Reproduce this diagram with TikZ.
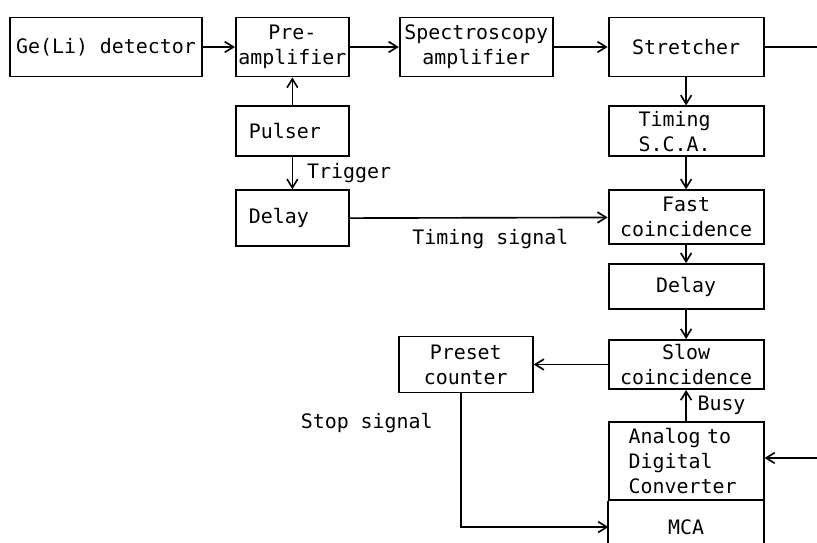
\documentclass[tikz,border=0pt]{standalone}
\usepackage{fontspec}
\setmainfont{DejaVu Sans Mono}
\usepackage{xcolor}
\usepackage{tikz}
\usetikzlibrary{arrows.meta,positioning}

\begin{document}
\begin{tikzpicture}[
  x=0.3mm,y=-0.3mm,
  unitbox/.style={draw,line width=1.6pt,align=center,inner sep=1pt,minimum height=15mm,font=\fontsize{17pt}{21.5pt}\selectfont},
  colbox/.style={unitbox,minimum width=46.5mm},
  lbl/.style={font=\fontsize{17pt}{21.5pt}\selectfont},
  wire/.style={line width=1.4pt},
  arr/.style={-{Straight Barb[length=2.6mm,width=3.2mm]},line width=1.4pt}]
  \useasboundingbox (0,0) rectangle (817,543);
  % top row
  \node[unitbox,minimum width=57.6mm,minimum height=17.7mm] (det) at (106,47) {Ge(Li) detector};
  \node[unitbox,minimum width=33.9mm,minimum height=17.7mm,right=9.6mm of det] (pre) {Pre-\\amplifier};
  \node[unitbox,minimum width=45.9mm,minimum height=17.7mm,right=14.7mm of pre] (spec) {Spectroscopy\\amplifier};
  \node[colbox,minimum height=17.7mm,right=16.2mm of spec] (str) {Stretcher};
  % pulser branch
  \node[unitbox,align=left,text width=26.1mm,minimum width=33.9mm,below=8.4mm of pre] (pulser) {Pulser};
  \node[unitbox,align=left,text width=26.1mm,minimum width=33.9mm,minimum height=16.8mm,below=9.6mm of pulser] (dlyA) {Delay};
  % right column
  \node[colbox,align=left,text width=28.5mm,below=8.4mm of str] (sca) {Timing\\S.C.A.};
  \node[colbox,minimum height=16.2mm,below=9.6mm of sca] (fast) {Fast\\coincidence};
  \node[colbox,minimum height=13.5mm,below=5.4mm of fast] (dlyB) {Delay};
  \node[colbox,minimum height=14.7mm,below=8.7mm of dlyB] (slow) {Slow\\coincidence};
  \node[colbox,align=left,text width=34.5mm,minimum height=23.4mm,below=9.3mm of slow] (adc) {Analog to\\Digital\\Converter};
  \node[lbl,minimum width=46.5mm,minimum height=15.6mm,below=0pt of adc] (mca) {MCA};
  \node[unitbox,minimum width=40.2mm,minimum height=16.8mm,left=22.2mm of slow] (preset) {Preset\\counter};
  \coordinate (outA) at (817,47);
  \coordinate (inB) at (817,458);
  % connectors
  \draw[arr] (det) -- (pre);
  \draw[arr] (pre) -- (spec);
  \draw[arr] (spec) -- (str);
  \draw[wire] (str) -- (outA);
  \draw[arr] (pulser) -- (pre);
  \draw[arr] (pulser) -- node[lbl,right=3mm] {Trigger} (dlyA);
  \draw[arr] (dlyA) -- node[lbl,below=2mm,pos=0.545] {Timing signal} (fast);
  \draw[arr] (str) -- (sca); \draw[arr] (sca) -- (fast); \draw[arr] (fast) -- (dlyB);
  \draw[arr] (dlyB) -- (slow);
  \draw[arr] (adc) -- node[lbl,right=2mm] {Busy} (slow);
  \draw[arr] (slow) -- (preset);
  \draw[arr] ([xshift=-1.5mm]preset.south) |- node[lbl,pos=0.11,left=7mm] {Stop signal} (mca.west);
  \draw[arr] (inB) -- (inB -| adc.east);
  \draw[line width=1.6pt] (mca.north west) -- ([yshift=-2mm]mca.south west);
  \draw[line width=1.6pt] (mca.north east) -- ([yshift=-2mm]mca.south east);
\end{tikzpicture}
\end{document}
